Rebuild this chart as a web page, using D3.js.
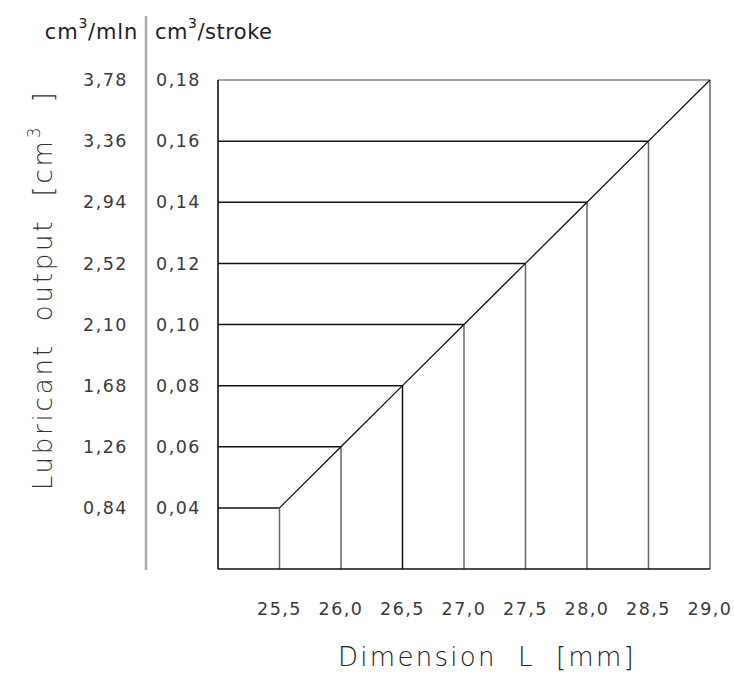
<!DOCTYPE html>
<html>
<head>
<meta charset="utf-8">
<script src="https://cdn.jsdelivr.net/npm/d3@7"></script>
<style>
  body { margin: 0; background: #fff; }
  text { font-family: "DejaVu Sans", sans-serif; fill: #222; }
</style>
</head>
<body>
<div id="chart"></div>
<script>

// dimension L [mm] at each setting
var dimL = [25.5, 26.0, 26.5, 27.0, 27.5, 28.0, 28.5, 29.0];
// output per stroke [cm3]
var perStroke = [0.04, 0.06, 0.08, 0.10, 0.12, 0.14, 0.16, 0.18];
// output per minute [cm3/min] labels
var perMin = ["0,84", "1,26", "1,68", "2,10", "2,52", "2,94", "3,36", "3,78"];
var xTickLabels = ["25,5", "26,0", "26,5", "27,0", "27,5", "28,0", "28,5", "29,0"];
var yTickLabels = ["0,04", "0,06", "0,08", "0,10", "0,12", "0,14", "0,16", "0,18"];

var W = 734, H = 677;

var svg = d3.select("#chart").append("svg")
  .attr("width", W)
  .attr("height", H);

var x = d3.scaleLinear().domain([25, 29]).range([218, 710]);
var y = d3.scaleLinear().domain([0.02, 0.18]).range([569, 80]);

var pts = dimL.map(function(d, i) { return {l: d, v: perStroke[i], m: perMin[i]}; });

// horizontal lines from left edge to curve
svg.selectAll(".hline").data(pts).enter().append("line")
  .attr("class", "hline")
  .attr("x1", x(25)).attr("x2", function(d) { return x(d.l); })
  .attr("y1", function(d) { return y(d.v); }).attr("y2", function(d) { return y(d.v); })
  .attr("stroke", function(d, i) { return i == pts.length - 1 ? "#888" : "#111"; })
  .attr("stroke-width", 1.5);

// vertical lines from curve down to bottom
svg.selectAll(".vline").data(pts).enter().append("line")
  .attr("class", "vline")
  .attr("x1", function(d) { return x(d.l); }).attr("x2", function(d) { return x(d.l); })
  .attr("y1", function(d) { return y(d.v); }).attr("y2", y(0.02))
  .attr("stroke", function(d, i) { return i == 2 ? "#111" : "#666"; })
  .attr("stroke-width", 1.5);

// frame: left + bottom
svg.append("line")
  .attr("x1", x(25)).attr("x2", x(25))
  .attr("y1", y(0.18)).attr("y2", y(0.02))
  .attr("stroke", "#111").attr("stroke-width", 1.6);
svg.append("line")
  .attr("x1", x(25)).attr("x2", x(29))
  .attr("y1", y(0.02)).attr("y2", y(0.02))
  .attr("stroke", "#111").attr("stroke-width", 1.6);

// the curve
svg.append("path")
  .datum(pts)
  .attr("fill", "none")
  .attr("stroke", "#111")
  .attr("stroke-width", 1.3)
  .attr("d", d3.line()
    .x(function(d) { return x(d.l); })
    .y(function(d) { return y(d.v); }));

// separator between the two y scales
svg.append("line")
  .attr("x1", 146).attr("x2", 146)
  .attr("y1", 16).attr("y2", 570)
  .attr("stroke", "#aaa").attr("stroke-width", 2.5);

var tickFont = "17.5px";

// y labels, cm3/stroke
svg.selectAll(".ys").data(pts).enter().append("text")
  .attr("x", 156)
  .attr("y", function(d) { return y(d.v); })
  .attr("dy", "0.35em")
  .style("font-size", tickFont)
  .style("letter-spacing", "1.5px")
  .style("fill", "#3a3a3a")
  .text(function(d, i) { return yTickLabels[i]; });

// y labels, cm3/min
svg.selectAll(".ym").data(pts).enter().append("text")
  .attr("x", 128)
  .attr("y", function(d) { return y(d.v); })
  .attr("dy", "0.35em")
  .attr("text-anchor", "end")
  .style("font-size", tickFont)
  .style("letter-spacing", "1.5px")
  .style("fill", "#3a3a3a")
  .text(function(d) { return d.m; });

// x labels
svg.selectAll(".xl").data(pts).enter().append("text")
  .attr("x", function(d) { return x(d.l); })
  .attr("y", 609)
  .attr("dy", "0.35em")
  .attr("text-anchor", "middle")
  .style("font-size", tickFont)
  .style("letter-spacing", "1.5px")
  .style("fill", "#3a3a3a")
  .text(function(d, i) { return xTickLabels[i]; });

// column headers
var h1 = svg.append("text").attr("x", 138).attr("y", 39).attr("text-anchor", "end")
  .style("font-size", "21px").style("letter-spacing", "0.8px");
h1.append("tspan").text("cm");
h1.append("tspan").attr("dy", -11).style("font-size", "14px").text("3");
h1.append("tspan").attr("dy", 11).text("/mln");

var h2 = svg.append("text").attr("x", 155).attr("y", 39)
  .style("font-size", "21px").style("letter-spacing", "0.5px");
h2.append("tspan").text("cm");
h2.append("tspan").attr("dy", -11).style("font-size", "14px").text("3");
h2.append("tspan").attr("dy", 11).text("/stroke");

// axis titles
svg.append("text")
  .attr("transform", "translate(52,290) rotate(-90)")
  .attr("text-anchor", "middle")
  .attr("xml:space", "preserve")
  .style("white-space", "pre")
  .style("font-size", "26px")
  .style("font-weight", 200)
  .style("letter-spacing", "2.8px")
  .style("fill", "#333")
  .html('Lubricant  output  [cm<tspan dy="-12" font-size="17">3</tspan><tspan dy="12">  ]</tspan>');

svg.append("text")
  .attr("x", 487)
  .attr("y", 666)
  .attr("text-anchor", "middle")
  .attr("xml:space", "preserve")
  .style("white-space", "pre")
  .style("font-size", "26px")
  .style("font-weight", 200)
  .style("letter-spacing", "2.3px")
  .style("fill", "#222")
  .text("Dimension  L  [mm]");

</script>
</body>
</html>
